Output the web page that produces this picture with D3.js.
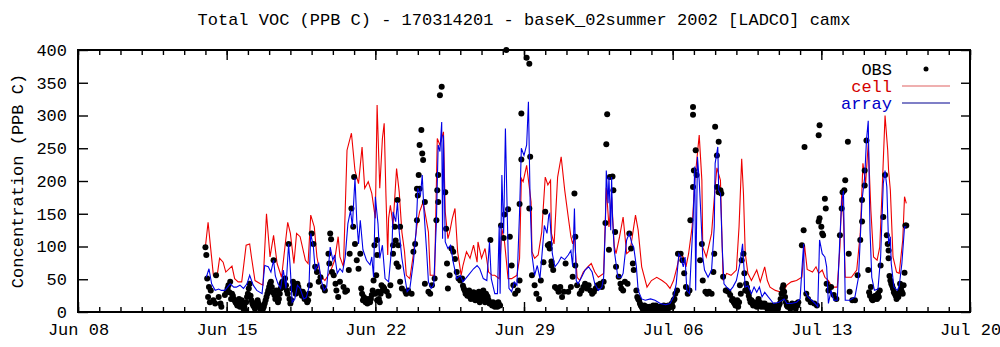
<!DOCTYPE html>
<html><head><meta charset="utf-8">
<script src="https://cdn.jsdelivr.net/npm/d3@7"></script>
<style>
body{margin:0;background:#fff}
svg{display:block}
text{font-family:"Liberation Mono","DejaVu Sans Mono",monospace;font-size:17px;fill:#000}
</style>
</head><body>
<svg id="chart" width="1000" height="347"></svg>
<script>
// ---------- data ----------
const chartTitle = "Total VOC (PPB C) - 170314201 - baseK_02summer 2002 [LADCO] camx";
const yAxisTitle = "Concentration (PPB C)";
const xTickLabels = ["Jun 08","Jun 15","Jun 22","Jun 29","Jul 06","Jul 13","Jul 20"];
const yTickValues = [0,50,100,150,200,250,300,350,400];
const seriesNames = ["OBS","cell","array"];
const seriesStart = "2002-06-14T00:00:00Z"; // hour 0 of every series below

// [hour since seriesStart, ppb C]
const obs = [[0,99],[1,87],[2,51],[4,38],[6,33],[3,23],[5,15],[9,18],[11,13],[12,56],[15,23],[17,13],[18,8],[22,26],[24,31],[28,46],[30,28],[32,20],[34,15],[35,13],[39,8],[43,5],[45,3],[47,23],[48,28],[50,43],[52,18],[54,10],[56,5],[60,13],[62,5],[64,3],[66,8],[69,23],[71,33],[73,43],[75,38],[77,79],[80,33],[81,23],[82,15],[86,43],[88,38],[90,51],[92,33],[94,104],[96,13],[99,46],[101,33],[105,38],[107,31],[111,28],[113,23],[114,20],[120,120],[122,104],[124,69],[126,61],[128,46],[130,53],[133,38],[135,33],[139,89],[141,120],[142,111],[140,74],[143,61],[145,56],[147,43],[148,33],[150,23],[152,46],[156,38],[158,31],[160,33],[162,64],[163,89],[165,158],[167,130],[168,206],[169,104],[171,79],[173,66],[175,89],[179,23],[180,18],[182,20],[186,15],[188,26],[190,48],[191,102],[192,28],[194,18],
[193,56],[195,31],[197,15],[194,110],[194,87],[199,41],[202,36],[205,31],[207,25],[209,41],[212,102],[215,109],[218,102],[220,130],[217,171],[214,130],[212,89],[216,74],[218,69],[220,46],[222,36],[226,31],[227,28],[229,33],[233,28],[235,92],[237,104],[239,140],[241,209],[242,188],[242,255],[244,278],[245,242],[246,232],[239,188],[240,178],[248,168],[248,43],[252,31],[254,28],[256,41],[259,51],[261,140],[262,186],[263,168],[265,331],[267,344],[263,209],[271,183],[272,127],[273,74],[274,36],[276,56],[278,97],[280,92],[282,81],[284,61],[286,51],[288,48],[290,51],[293,33],[295,31],[297,28],[299,23],[302,28],[304,20],[307,25],[309,31],[311,20],[314,33],[317,28],[319,23],[322,110],[323,13],[326,13],[329,10],[332,11],[334,132],[337,113],[338,149],[340,400],[342,157],[344,115],[346,71],[348,41],[350,28],[353,33],[355,48],[355,165],[357,303],[357,233],[363,388],[366,379],[366,158],[367,237],[369,56],[372,41],[374,28],[377,20],[379,48],[382,76],[384,153],[387,102],[389,97],[391,71],
[389,104],[391,77],[393,64],[395,38],[397,36],[399,31],[401,38],[403,23],[405,31],[407,74],[410,31],[413,38],[415,54],[417,181],[418,115],[418,71],[420,41],[423,28],[446,43],[448,38],[450,46],[452,136],[453,256],[454,302],[456,95],[457,206],[460,207],[461,186],[463,122],[464,69],[467,54],[469,43],[470,36],[472,33],[474,46],[477,43],[479,120],[481,97],[483,74],[484,64],[487,33],[488,23],[490,18],[493,8],[497,5],[501,3],[504,5],[510,8],[516,5],[521,8],[525,8],[529,18],[533,33],[534,89],[537,89],[539,79],[541,59],[543,38],[545,28],[547,33],[548,140],[551,191],[552,216],[554,247],[555,209],[551,301],[551,313],[561,104],[559,79],[562,48],[565,31],[567,28],[569,31],[572,28],[574,61],[575,89],[576,283],[580,260],[578,239],[578,191],[580,183],[582,186],[583,181],[585,54],[588,33],[591,31],
[589,33],[593,26],[595,18],[598,13],[602,8],[604,41],[606,79],[608,89],[609,59],[612,38],[613,31],[617,18],[621,13],[625,20],[629,13],[632,13],[636,10],[640,8],[644,8],[647,5],[653,41],[654,31],[659,10],[664,8],[668,13],[674,102],[676,125],[677,252],[679,28],[681,20],[684,15],[688,13],[691,10],[693,270],[694,285],[693,138],[694,143],[696,130],[697,120],[698,117],[700,173],[701,158],[702,43],[704,33],[707,38],[710,26],[713,20],[717,117],[719,158],[720,183],[722,186],[723,201],[726,260],[727,89],[728,31],[731,18],[734,18],[737,56],[740,110],[742,138],[742,171],[745,216],[745,193],[747,262],[749,64],[752,38],[755,23],[758,23],[761,23],[763,71],[766,145],[768,209],[770,117],[771,104],[772,94],[772,82],[775,43],[777,36],[779,28],[783,23],[785,43],[787,31],[791,132],[792,132],[789,41],
[25,36],[26,41],[27,30],[29,20],[31,25],[33,18],[36,10],[37,15],[38,20],[40,12],[41,18],[42,10],[44,8],[46,15],[49,36],[51,25],[53,13],[55,8],[57,10],[58,15],[59,18],[61,10],[63,8],[65,5],[67,13],[68,18],[70,28],[72,38],[74,46],[76,30],[78,26],[79,20],[83,20],[84,28],[85,36],[87,46],[89,43],[91,41],[93,28],[95,20],[97,18],[98,36],[100,41],[102,28],[103,36],[104,43],[106,33],[108,28],[109,25],[110,31],[112,20],[115,15],[116,18],[117,28],[118,41],
[176,36],[177,28],[178,18],[181,15],[183,13],[184,18],[185,20],[187,20],[189,33],[196,20],[198,28],[200,33],[201,38],
[291,40],[292,36],[294,28],[296,25],[298,33],[300,20],[301,25],[303,30],[305,18],[306,28],[308,22],[310,15],[312,25],[313,30],[315,20],[316,15],[318,25],[320,18],[321,13],[324,10],[325,15],[327,8],[328,13],[330,8],[331,15],[333,10],
[425,33],[427,38],[429,43],[431,36],[433,41],[435,33],[437,28],[439,31],[441,36],[443,41],
[489,20],[491,13],[492,10],[494,5],[495,8],[496,10],[498,6],[499,8],[500,5],[502,8],[503,4],[505,8],[506,10],[507,6],[508,5],[509,10],[511,6],[512,4],[513,8],[514,5],[515,8],[517,6],[518,10],[519,5],[520,8],[522,5],[523,10],[524,6],[526,10],[527,13],[528,8],[530,20],[531,28],
[596,20],[597,15],[599,10],[600,13],[601,18],[603,15],[605,28],[610,33],[611,43],[614,25],[615,20],[616,15],[618,13],[619,10],[620,15],[622,10],[623,8],[624,13],[626,15],[627,10],[628,8],[630,10],[631,8],[633,10],[634,8],[635,5],[637,8],[638,5],[639,10],[641,5],[642,8],[643,10],[645,5],[646,8],[648,10],[649,13],[650,20],[651,28],[652,36],[655,23],[656,15],[657,10],[658,8],[660,8],[661,5],[662,10],[663,13],[665,10],[666,8],[667,5],[669,10],[670,15],
[750,30],[751,25],[753,20],[754,18],[756,20],[757,25],[759,20],[760,28],[762,33],[773,55],[774,48],[776,40],[778,30],[780,25],[781,20],[782,26],[784,30],[786,36],[788,28],[790,60]];

const cell = [[0,100],[3,137],[9,56],[13,53],[16,82],[20,76],[23,61],[30,70],[33,51],[37,46],[41,46],[46,102],[50,104],[52,84],[56,48],[62,43],[65,41],[69,150],[73,84],[77,117],[81,74],[86,53],[93,137],[96,120],[100,74],[103,120],[107,115],[113,79],[116,74],[119,148],[123,130],[126,84],[130,56],[135,48],[141,61],[146,79],[150,115],[152,84],[156,69],[160,247],[165,273],[169,216],[173,196],[177,252],[180,189],[184,199],[188,181],[192,143],[194,316],[197,189],[200,265],[202,288],[204,178],[206,87],[207,143],[209,163],[212,132],[216,219],[219,183],[222,122],[225,92],[227,56],[231,51],[235,88],[239,132],[242,153],[246,168],[252,122],[254,56],[259,56],[262,265],[265,255],[269,275],[271,153],[274,112],[276,122],[279,143],[282,158],[285,92],[289,56],[291,71],[295,92],[299,82],[303,102],[307,76],[308,107],[312,82],[316,97],[320,61],[324,56],[327,56],[332,51],[335,127],[338,107],[342,51],[346,51],[352,56],[355,82],[357,204],[359,199],[363,224],[368,168],[369,92],[372,82],[376,87],[380,122],[384,206],[387,194],[390,201],[391,120],[394,104],[398,206],[402,237],[406,186],[410,145],[413,115],[415,104],[417,115],[420,53],[423,48],[427,61],[432,69],[436,74],[440,61],[444,53],[450,59],[453,190],[456,130],[459,175],[462,100],[464,89],[468,115],[472,145],[476,89],[480,94],[484,130],[486,148],[489,125],[493,69],[499,38],[504,48],[510,53],[516,48],[521,43],[525,36],[529,48],[533,69],[536,89],[540,84],[543,69],[546,89],[550,130],[553,200],[558,270],[561,201],[562,99],[566,84],[572,120],[576,191],[578,220],[582,201],[585,48],[589,59],[594,56],[600,64],[603,130],[606,234],[608,181],[610,90],[613,59],[617,48],[623,64],[627,46],[632,69],[635,48],[638,38],[644,33],[649,31],[653,31],[657,41],[662,46],[668,48],[674,53],[677,102],[680,65],[686,61],[690,69],[693,59],[697,64],[700,53],[704,48],[708,38],[714,38],[717,99],[719,180],[721,145],[723,53],[730,53],[736,64],[740,120],[743,227],[746,196],[749,257],[752,155],[755,84],[759,79],[762,99],[765,196],[768,300],[771,247],[772,216],[774,186],[777,84],[781,61],[784,59],[788,110],[790,176],[792,166]];

const array = [[1,53],[4,66],[7,43],[11,33],[15,35],[18,33],[22,33],[28,43],[32,38],[35,38],[39,41],[43,36],[47,43],[50,56],[54,41],[58,33],[64,28],[67,71],[71,69],[74,61],[77,79],[79,55],[82,43],[85,36],[88,64],[91,36],[94,104],[96,64],[98,15],[101,20],[104,41],[107,36],[111,20],[114,22],[117,38],[119,120],[122,99],[124,64],[128,74],[131,48],[134,33],[137,38],[141,99],[144,79],[146,87],[149,59],[152,66],[155,61],[158,84],[161,135],[164,155],[166,130],[169,204],[171,140],[173,104],[175,140],[178,95],[182,79],[186,72],[188,84],[190,53],[192,176],[195,135],[197,82],[200,102],[203,51],[207,46],[211,107],[212,153],[215,138],[217,168],[219,122],[222,82],[225,56],[228,31],[231,36],[235,76],[238,122],[240,189],[243,178],[245,209],[247,153],[250,92],[252,46],[255,36],[258,41],[261,138],[263,255],[265,245],[267,290],[268,112],[269,270],[271,107],[274,97],[277,102],[280,76],[284,51],[288,56],[291,46],[297,56],[303,66],[307,71],[310,66],[314,51],[318,48],[321,107],[323,51],[327,28],[330,28],[332,132],[333,28],[335,209],[337,120],[339,280],[341,153],[343,36],[346,31],[349,46],[352,41],[355,153],[357,250],[360,239],[363,255],[365,321],[367,163],[369,87],[372,56],[375,71],[378,51],[380,82],[383,132],[386,120],[388,148],[389,150],[392,89],[395,69],[399,76],[402,84],[406,80],[410,87],[413,94],[415,69],[417,158],[419,48],[421,43],[425,53],[429,64],[433,69],[437,61],[440,43],[444,33],[448,38],[450,53],[452,135],[453,216],[455,166],[456,206],[458,125],[459,206],[460,145],[462,94],[464,74],[466,53],[470,53],[472,59],[476,110],[479,120],[482,104],[484,99],[487,69],[489,33],[493,20],[497,18],[503,20],[508,18],[514,13],[520,11],[525,13],[529,23],[532,43],[535,89],[537,84],[540,69],[542,84],[544,33],[547,28],[550,110],[551,135],[553,222],[554,33],[556,237],[558,201],[560,145],[562,84],[564,64],[568,53],[572,64],[575,130],[576,227],[579,252],[580,186],[582,181],[584,99],[586,43],[589,38],[593,33],[596,38],[600,48],[604,74],[607,104],[608,80],[610,38],[613,40],[617,28],[620,38],[623,30],[626,38],[629,23],[632,30],[636,23],[642,13],[648,15],[654,20],[657,13],[662,13],[668,15],[672,20],[674,64],[676,104],[677,33],[681,23],[685,18],[689,13],[692,8],[694,110],[697,89],[700,84],[702,69],[704,13],[707,33],[710,18],[714,18],[717,115],[719,166],[721,185],[723,18],[728,18],[734,23],[738,53],[742,171],[745,206],[747,262],[749,292],[751,125],[753,53],[756,33],[760,35],[763,84],[766,196],[768,216],[770,191],[772,104],[774,115],[775,74],[778,38],[782,33],[784,40],[787,74],[790,130],[792,130]];

// ---------- chart ----------
(function(){
const W = 1000, H = 347;
const margin = {left: 78, right: 30, top: 50, bottom: 35};
const svg = d3.select("#chart");
const t0 = new Date(seriesStart).getTime();
const toDate = h => new Date(t0 + h * 3600e3);

const x = d3.scaleUtc()
  .domain([new Date("2002-06-08T00:00:00Z"), new Date("2002-07-20T00:00:00Z")])
  .range([margin.left, W - margin.right]);
const y = d3.scaleLinear().domain([0, 400]).range([H - margin.bottom, margin.top]);

const days = d3.utcDay.range(x.domain()[0], d3.utcDay.offset(x.domain()[1], 1));
const weeks = days.filter((d, i) => i % 7 === 0);
const fmt = d => xTickLabels[weeks.findIndex(w => +w === +d)];

function styleAxis(g){ g.select(".domain").remove(); g.selectAll(".tick line").attr("stroke","#000").attr("stroke-width",1.4); g.selectAll("text").style("font-family",'"Liberation Mono","DejaVu Sans Mono",monospace').style("font-size","17px").attr("fill","#000"); }

const yBottom = H - margin.bottom, yTop = margin.top, xLeft = margin.left, xRight = W - margin.right;

// minor daily ticks (bottom & top)
svg.append("g").attr("transform",`translate(0,${yBottom})`)
  .call(d3.axisBottom(x).tickValues(days).tickSize(-5).tickFormat("")).call(styleAxis);
svg.append("g").attr("transform",`translate(0,${yTop})`)
  .call(d3.axisTop(x).tickValues(days).tickSize(-5).tickFormat("")).call(styleAxis);
// major weekly ticks
svg.append("g").attr("transform",`translate(0,${yBottom})`)
  .call(d3.axisBottom(x).tickValues(weeks).tickSize(-10).tickPadding(11).tickFormat(fmt)).call(styleAxis);
svg.append("g").attr("transform",`translate(0,${yTop})`)
  .call(d3.axisTop(x).tickValues(weeks).tickSize(-10).tickFormat("")).call(styleAxis);
// y axes
svg.append("g").attr("transform",`translate(${xLeft},0)`)
  .call(d3.axisLeft(y).tickValues(yTickValues).tickSize(-10).tickPadding(11).tickFormat(d3.format("d"))).call(styleAxis);
svg.append("g").attr("transform",`translate(${xRight},0)`)
  .call(d3.axisRight(y).tickValues(yTickValues).tickSize(-9).tickFormat("")).call(styleAxis);

// data
const line = d3.line().x(d => x(toDate(d[0]))).y(d => y(d[1]));
svg.append("path").datum(cell).attr("d", line).attr("fill","none").attr("stroke","#ee0000").attr("stroke-width",1.1);
svg.append("g").selectAll("circle").data(obs).join("circle")
  .attr("cx", d => x(toDate(d[0]))).attr("cy", d => y(d[1])).attr("r", 3).attr("fill","#000");
svg.append("path").datum(array).attr("d", line).attr("fill","none").attr("stroke","#0000e6").attr("stroke-width",1.1);

// frame
svg.append("rect").attr("x",xLeft).attr("y",yTop).attr("width",xRight-xLeft).attr("height",yBottom-yTop)
  .attr("fill","none").attr("stroke","#000").attr("stroke-width",2);

// title & axis title
svg.append("text").attr("x",(xLeft+xRight)/2).attr("y",25).attr("text-anchor","middle").text(chartTitle);
svg.append("text").attr("transform",`translate(23,${(yTop+yBottom)/2}) rotate(-90)`).attr("text-anchor","middle").text(yAxisTitle);

// legend
const legX = 892, legY = [69, 86, 103];
const legColors = ["#000","#d40000","#0000c8"];
const lg = svg.append("g");
seriesNames.forEach((n,i)=>{
  lg.append("text").attr("x",legX).attr("y",legY[i]).attr("dy","0.35em").attr("text-anchor","end").style("fill",legColors[i]).text(n);
});
lg.append("circle").attr("cx",926).attr("cy",legY[0]).attr("r",2.5).attr("fill","#000");
lg.append("line").attr("x1",902).attr("x2",950).attr("y1",legY[1]).attr("y2",legY[1]).attr("stroke","#e06060").attr("stroke-width",1.2);
lg.append("line").attr("x1",902).attr("x2",950).attr("y1",legY[2]).attr("y2",legY[2]).attr("stroke","#000090").attr("stroke-width",1.2);
})();
</script>
</body></html>
